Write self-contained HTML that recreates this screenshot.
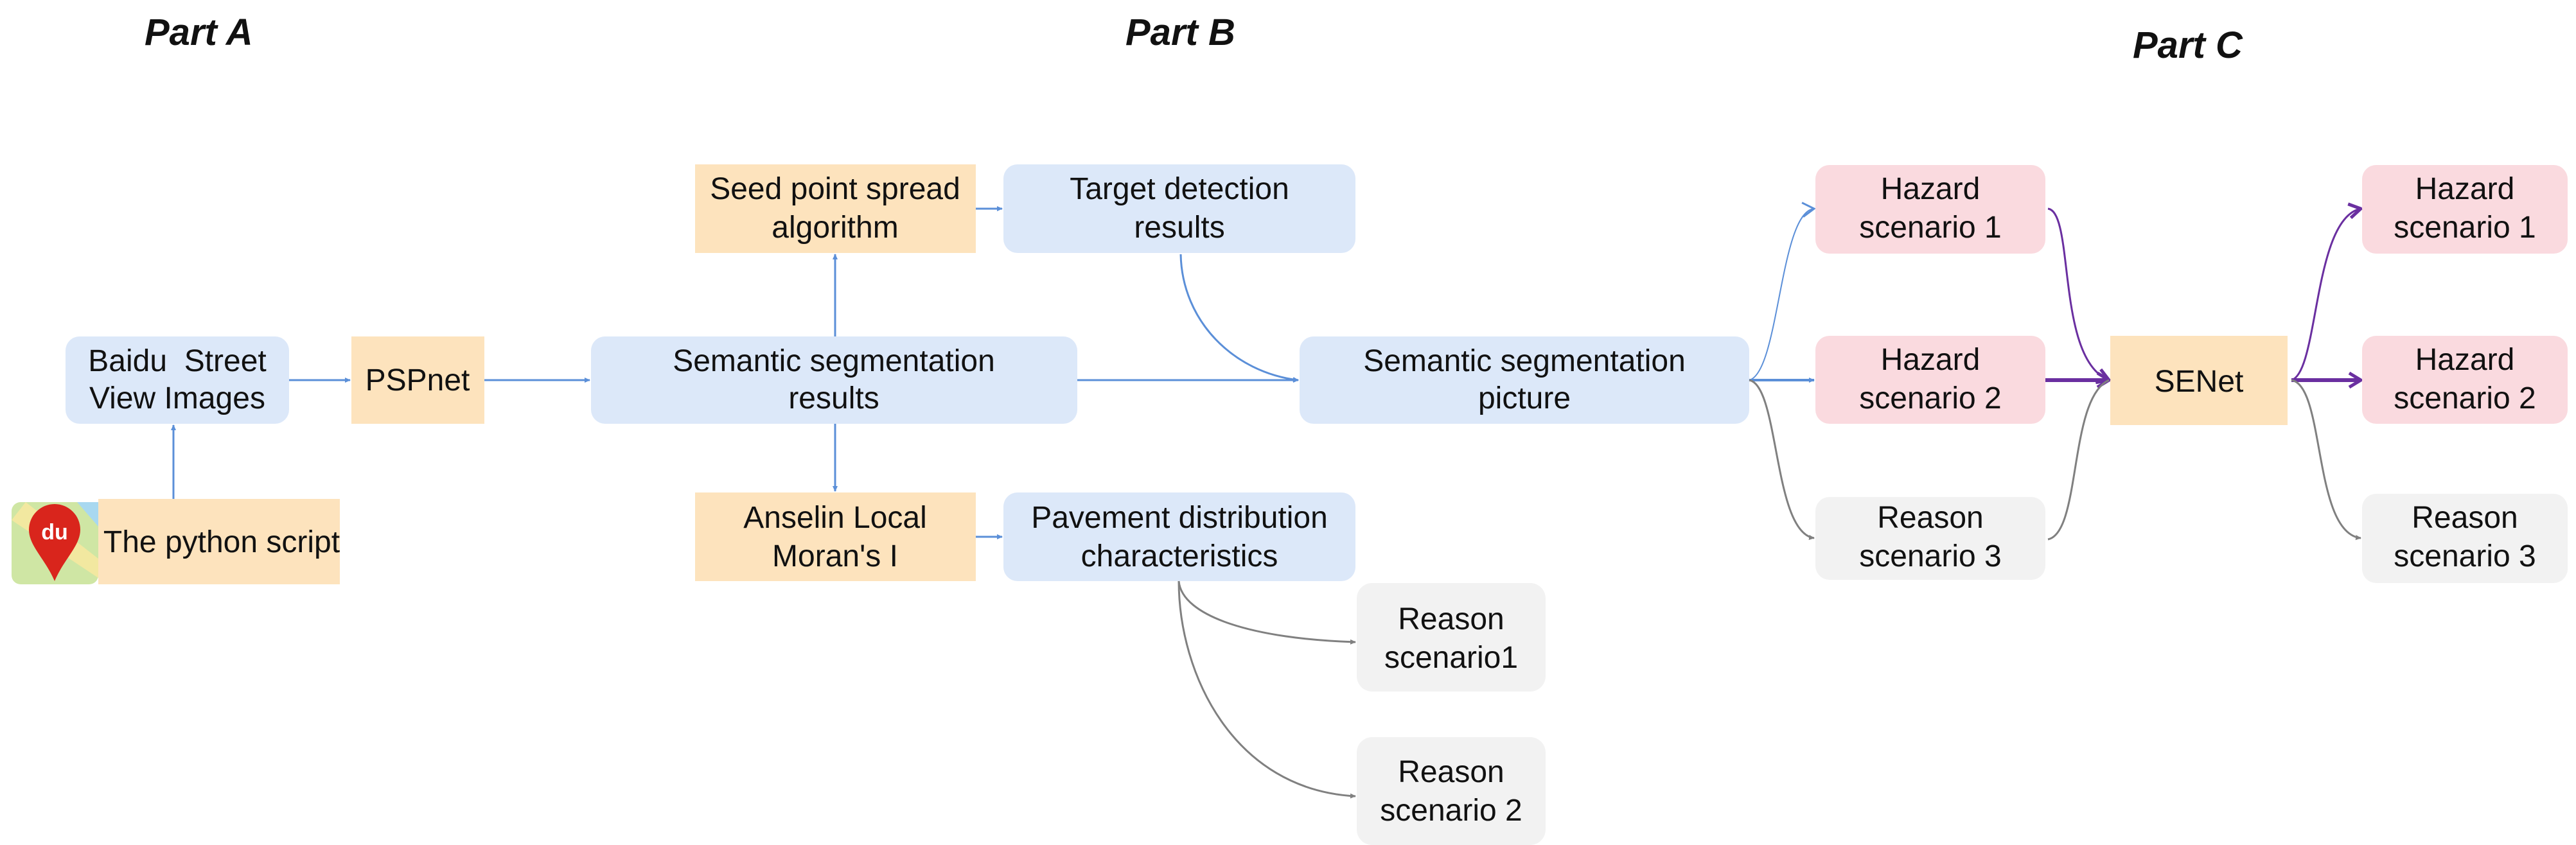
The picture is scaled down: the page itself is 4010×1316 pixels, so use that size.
<!DOCTYPE html>
<html><head><meta charset="utf-8"><style>
html,body{margin:0;padding:0;background:#fff;}
svg{display:block;}
text{font-family:"Liberation Sans",sans-serif;fill:#111;}
</style></head><body>
<svg width="4010" height="1316" viewBox="0 0 4010 1316" xmlns="http://www.w3.org/2000/svg">
<defs>
<marker id="ab" markerWidth="10" markerHeight="10" refX="8" refY="5" orient="auto" markerUnits="userSpaceOnUse" viewBox="0 0 10 10"><path d="M0,1 L9,5 L0,9 z" fill="#5b8fd8"/></marker>
<marker id="ag" markerWidth="10" markerHeight="10" refX="8" refY="5" orient="auto" markerUnits="userSpaceOnUse" viewBox="0 0 10 10"><path d="M0,1 L9,5 L0,9 z" fill="#808080"/></marker>
<marker id="ap" markerWidth="22" markerHeight="26" refX="20" refY="13" orient="auto" markerUnits="userSpaceOnUse"><path d="M2,2 L20,13 L2,24" fill="none" stroke="#6a2fa0" stroke-width="5"/></marker>
<marker id="abo" markerWidth="22" markerHeight="26" refX="20" refY="13" orient="auto" markerUnits="userSpaceOnUse"><path d="M2,2 L20,13 L2,24" fill="none" stroke="#5b8fd8" stroke-width="3"/></marker>
</defs>

<g font-weight="bold" font-style="italic" font-size="58">
<text x="225" y="70">Part A</text>
<text x="1752" y="70">Part B</text>
<text x="3320" y="90">Part C</text>
</g>

<g>
<rect x="102" y="524" width="348" height="136" rx="22" fill="#dce8f9"/>
<rect x="153" y="777" width="376" height="133" fill="#fde3bd"/>
<rect x="547" y="524" width="207" height="136" fill="#fde3bd"/>
<rect x="920" y="524" width="757" height="136" rx="22" fill="#dce8f9"/>
<rect x="1082" y="256" width="437" height="138" fill="#fde3bd"/>
<rect x="1562" y="256" width="548" height="138" rx="22" fill="#dce8f9"/>
<rect x="1082" y="767" width="437" height="138" fill="#fde3bd"/>
<rect x="1562" y="767" width="548" height="138" rx="22" fill="#dce8f9"/>
<rect x="2023" y="524" width="700" height="136" rx="22" fill="#dce8f9"/>
<rect x="2112" y="908" width="294" height="169" rx="24" fill="#f2f2f2"/>
<rect x="2112" y="1148" width="294" height="168" rx="24" fill="#f2f2f2"/>
<rect x="2826" y="257" width="358" height="138" rx="22" fill="#fadadf"/>
<rect x="2826" y="523" width="358" height="137" rx="22" fill="#fadadf"/>
<rect x="2826" y="774" width="358" height="129" rx="22" fill="#f2f2f2"/>
<rect x="3285" y="523" width="276" height="139" fill="#fde3bd"/>
<rect x="3677" y="257" width="320" height="138" rx="22" fill="#fadadf"/>
<rect x="3677" y="523" width="320" height="137" rx="22" fill="#fadadf"/>
<rect x="3677" y="769" width="320" height="139" rx="22" fill="#f2f2f2"/>
</g>

<g>
<rect x="18" y="782" width="135" height="128" rx="14" fill="#cfe6a4"/>
<path d="M18,810 L153,900 L153,870 L40,782 Z" fill="#f2e8a0"/>
<path d="M120,782 L153,782 L153,820 Z" fill="#a8d8f0"/>
<path d="M85,905 C70,870 45,850 45,825 A40,40 0 0 1 125,825 C125,850 100,870 85,905 Z" fill="#d9251c"/>
<text x="85" y="840" font-size="34" font-weight="bold" text-anchor="middle" style="fill:#fff">du</text>
</g>

<g font-size="48" text-anchor="middle">
<text x="276" y="578">Baidu &#160;Street</text>
<text x="276" y="636">View Images</text>
<text x="345" y="860">The python script</text>
<text x="650" y="608">PSPnet</text>
<text x="1298" y="578">Semantic segmentation</text>
<text x="1298" y="636">results</text>
<text x="1300" y="310">Seed point spread</text>
<text x="1300" y="370">algorithm</text>
<text x="1836" y="310">Target detection</text>
<text x="1836" y="370">results</text>
<text x="1300" y="822">Anselin Local</text>
<text x="1300" y="882">Moran's I</text>
<text x="1836" y="822">Pavement distribution</text>
<text x="1836" y="882">characteristics</text>
<text x="2373" y="578">Semantic segmentation</text>
<text x="2373" y="636">picture</text>
<text x="2259" y="980">Reason</text>
<text x="2259" y="1040">scenario1</text>
<text x="2259" y="1218">Reason</text>
<text x="2259" y="1278">scenario 2</text>
<text x="3005" y="310">Hazard</text>
<text x="3005" y="370">scenario 1</text>
<text x="3005" y="576">Hazard</text>
<text x="3005" y="636">scenario 2</text>
<text x="3005" y="822">Reason</text>
<text x="3005" y="882">scenario 3</text>
<text x="3423" y="610">SENet</text>
<text x="3837" y="310">Hazard</text>
<text x="3837" y="370">scenario 1</text>
<text x="3837" y="576">Hazard</text>
<text x="3837" y="636">scenario 2</text>
<text x="3837" y="822">Reason</text>
<text x="3837" y="882">scenario 3</text>
</g>

<g fill="none" stroke-width="3">
<path d="M450,592 L545,592" stroke="#5b8fd8" marker-end="url(#ab)"/>
<path d="M754,592 L918,592" stroke="#5b8fd8" marker-end="url(#ab)"/>
<path d="M270,777 L270,662" stroke="#5b8fd8" marker-end="url(#ab)"/>
<path d="M1300,524 L1300,396" stroke="#5b8fd8" marker-end="url(#ab)"/>
<path d="M1300,660 L1300,765" stroke="#5b8fd8" marker-end="url(#ab)"/>
<path d="M1519,325 L1560,325" stroke="#5b8fd8" marker-end="url(#ab)"/>
<path d="M1519,836 L1560,836" stroke="#5b8fd8" marker-end="url(#ab)"/>
<path d="M1677,592 L2021,592" stroke="#5b8fd8" marker-end="url(#ab)"/>
<path d="M1838,396 C1840,500 1920,580 2021,592" stroke="#5b8fd8" marker-end="url(#ab)"/>
<path d="M1835,905 C1840,960 1950,995 2110,1000" stroke="#808080" marker-end="url(#ag)"/>
<path d="M1835,905 C1835,1050 1920,1230 2110,1240" stroke="#808080" marker-end="url(#ag)"/>

<path d="M2723,592 C2770,580 2770,330 2824,325" stroke="#5b8fd8" stroke-width="2" marker-end="url(#abo)"/>
<path d="M2723,592 L2824,592" stroke="#5b8fd8" stroke-width="4" marker-end="url(#ab)"/>
<path d="M2723,592 C2770,600 2760,830 2824,838" stroke="#808080" marker-end="url(#ag)"/>

<path d="M3188,325 C3230,330 3200,560 3283,592" stroke="#6a2fa0" marker-end="url(#ap)"/>
<path d="M3184,592 L3283,592" stroke="#6a2fa0" stroke-width="6" marker-end="url(#ap)"/>
<path d="M3188,840 C3240,830 3220,620 3283,592" stroke="#808080"/>

<path d="M3567,592 C3610,580 3600,340 3675,325" stroke="#6a2fa0" marker-end="url(#ap)"/>
<path d="M3567,592 L3675,592" stroke="#6a2fa0" stroke-width="6" marker-end="url(#ap)"/>
<path d="M3567,592 C3620,600 3600,830 3675,838" stroke="#808080" marker-end="url(#ag)"/>
</g>
</svg>
</body></html>
